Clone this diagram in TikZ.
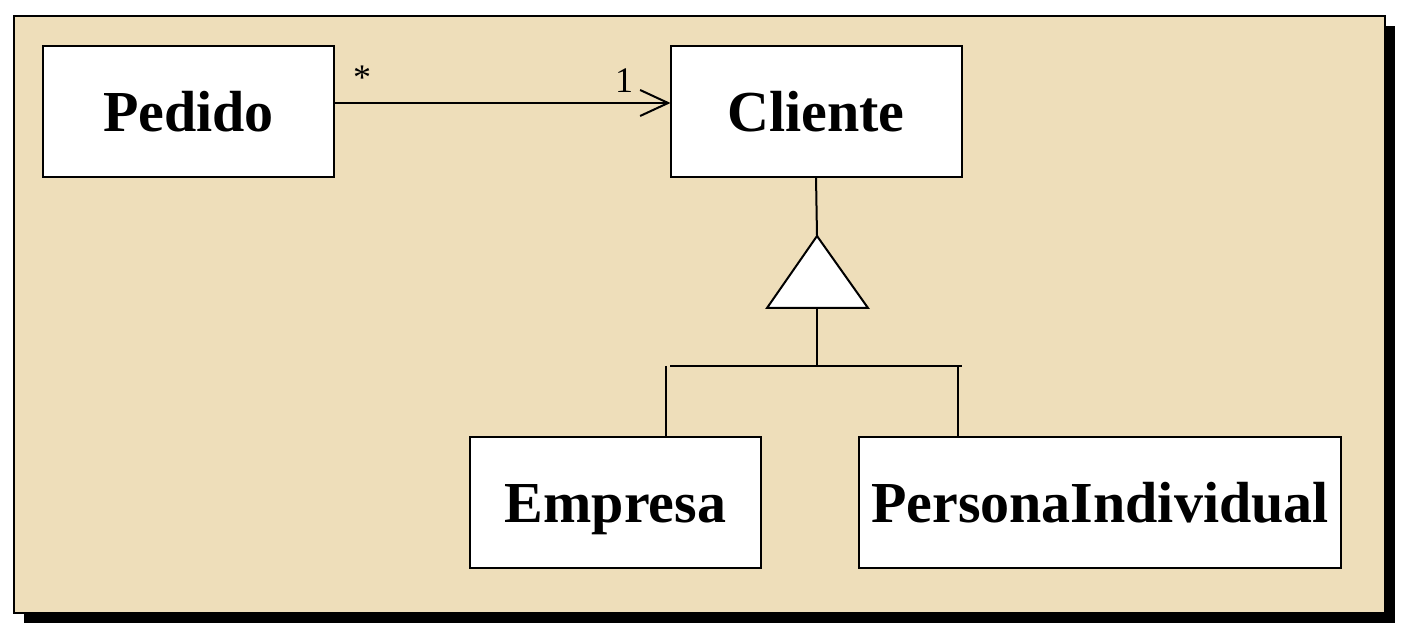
\documentclass[tikz,border=0pt]{standalone}
\usepackage{fontspec}
\setmainfont{Liberation Serif}
\usetikzlibrary{arrows.meta,positioning}
\definecolor{umlsand}{RGB}{238,222,186}

\begin{document}
\begin{tikzpicture}[x=0.5pt, y=-0.5pt,
      umlclass/.style={draw, line width=1pt, fill=white, minimum width=145.5pt, minimum height=65.5pt, inner sep=0pt, outer sep=0pt, text height=20.5pt, text depth=0pt, font=\fontsize{29}{32}\selectfont\bfseries},
      mult/.style={inner sep=0pt, font=\fontsize{18}{20}\selectfont},
      link/.style={line width=1pt}
    ]
      \useasboundingbox (0,0) rectangle (1412,640);
      \fill[black] (24,26) rectangle (1395,623);
      \draw[line width=1pt, fill=umlsand] (14,16) rectangle (1385,613);

      \node[umlclass] (pedido) at (188.5,111.5) {Pedido};
      \node[umlclass] (cliente) at (816,111.5) {Cliente};
      \node[umlclass] (empresa) at (615.5,502.5) {Empresa};
      \node[umlclass, minimum width=241pt] (persona) at (1100,502.5) {PersonaIndividual};

      % association
      \draw[link, -{Straight Barb[length=14pt, width=13pt]}] ([yshift=4.25pt]pedido.east) -- ([yshift=4.25pt]cliente.west);
      \node[mult] (manyend) at (362,78) {*};
      \node[mult] (oneend) at (624,81) {1};

      % generalization
      \coordinate (apex) at (817,236);
      \coordinate (baseR) at (868,308);
      \coordinate (baseL) at (767,308);
      \coordinate (basemid) at (817,308);
      \coordinate (bus) at (817,366);
      \coordinate (busL) at (670,366);
      \coordinate (busR) at (962,366);
      \coordinate (empup) at (666,366);
      \coordinate (perup) at (958,366);
      \draw[link] (cliente.south) -- (apex);
      \draw[link, fill=white] (apex) -- (baseR) -- (baseL) -- cycle;
      \draw[link] (basemid) -- (bus);
      \draw[link] (busL) -- (busR);
      \draw[link] (empup) -- (empup |- empresa.north);
      \draw[link] (perup) -- (perup |- persona.north);
    \end{tikzpicture}
\end{document}
